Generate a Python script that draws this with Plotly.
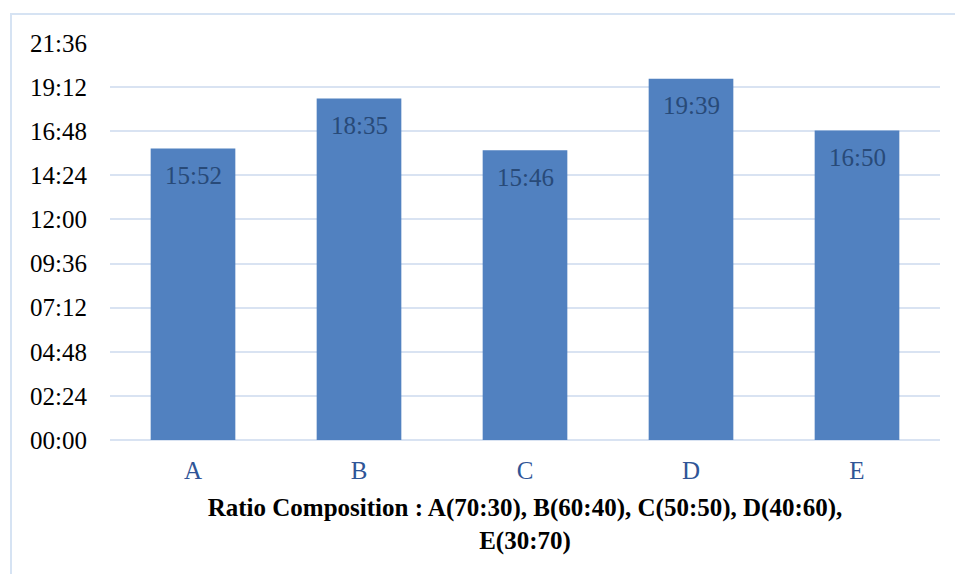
import plotly.graph_objects as go

categories = ["A", "B", "C", "D", "E"]
durations = ["15:52", "18:35", "15:46", "19:39", "16:50"]
y_ticks = ["00:00", "02:24", "04:48", "07:12", "09:36", "12:00", "14:24", "16:48", "19:12", "21:36"]
x_title = "Ratio Composition : A(70:30), B(60:40), C(50:50), D(40:60),<br>E(30:70)"


def to_min(s):
    h, m = s.split(":")
    return int(h) * 60 + int(m)


values = [to_min(d) for d in durations]
tick_vals = [to_min(t) for t in y_ticks]

FONT = "Liberation Serif"
GRID = "#d9e3f2"
SIZE = 25

fig = go.Figure(
    go.Bar(
        x=categories,
        y=values,
        marker=dict(color="#5181c0", line=dict(width=0)),
        hoverinfo="skip",
    )
)

annotations = [
    dict(
        x=c, y=v, xref="x", yref="y", text=t, showarrow=False,
        yanchor="middle", yshift=-27,
        font=dict(family=FONT, size=SIZE, color="#284a78"),
    )
    for c, v, t in zip(categories, values, durations)
]

fig.update_layout(
    width=955,
    height=574,
    paper_bgcolor="white",
    plot_bgcolor="white",
    margin=dict(l=110, r=15, t=43, b=134),
    bargap=0.49,
    showlegend=False,
    font=dict(family=FONT, size=SIZE, color="black"),
    annotations=annotations,
    xaxis=dict(
        showgrid=False,
        showline=False,
        ticks="",
        ticklabelstandoff=13,
        tickfont=dict(family=FONT, size=SIZE, color="#2f5597"),
        title=dict(
            text="<b>" + x_title + "</b>",
            font=dict(family=FONT, size=SIZE, color="black"),
            standoff=15,
        ),
    ),
    yaxis=dict(
        range=[0, tick_vals[-1]],
        tickvals=tick_vals,
        ticktext=y_ticks,
        showgrid=True,
        gridcolor=GRID,
        gridwidth=2,
        zeroline=True,
        zerolinecolor=GRID,
        zerolinewidth=2,
        showline=False,
        ticks="",
        ticklabelstandoff=22,
        tickfont=dict(family=FONT, size=SIZE, color="black"),
    ),
    shapes=[
        dict(
            type="rect",
            xref="paper",
            yref="paper",
            x0=(11 - 110) / 830,
            x1=1.2,
            y0=-0.6,
            y1=1 + (43 - 14) / 397,
            line=dict(color="#d6e3f3", width=2),
            fillcolor="rgba(0,0,0,0)",
            layer="below",
        )
    ],
)

fig.write_html(
    "out.html",
    config={"displayModeBar": False},
    post_script="document.body.style.margin='0';",
)
